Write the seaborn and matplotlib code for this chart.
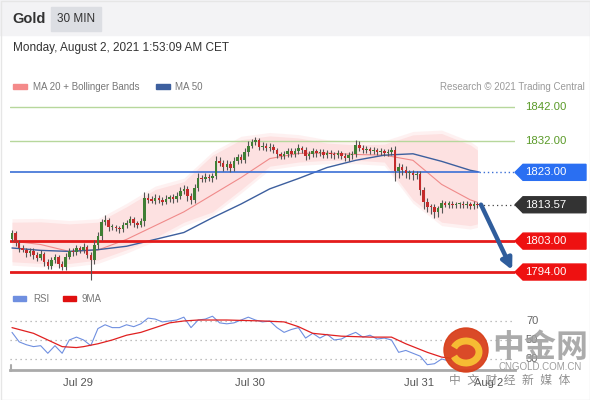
import numpy as np
import pandas as pd
import matplotlib
matplotlib.use("Agg")
import matplotlib.pyplot as plt
import matplotlib.patches as mpatches
import matplotlib.transforms as mtransforms
import seaborn as sns

# --- Daten ---
first_open = 1803.6
close = [
    1805.3, 1802.5, 1801.0, 1800.5, 1799.5, 1800.2, 1799.0, 1798.2, 1799.3, 1797.0,
    1795.8, 1797.5, 1798.4, 1796.4, 1795.5, 1798.5, 1800.2, 1799.7, 1801.0, 1800.3,
    1801.4, 1799.0, 1797.6, 1801.8, 1804.5, 1808.5, 1809.0, 1807.0, 1807.2, 1806.7,
    1806.4, 1807.6, 1808.4, 1809.3, 1808.2, 1807.8, 1808.9, 1815.5, 1815.0, 1814.8,
    1815.6, 1815.0, 1814.4, 1815.3, 1815.8, 1815.2, 1816.2, 1817.6, 1818.2, 1816.0,
    1815.0, 1818.5, 1821.4, 1821.0, 1821.7, 1821.3, 1822.0, 1826.3, 1825.8, 1824.6,
    1825.5, 1824.2, 1826.2, 1827.4, 1826.6, 1828.8, 1830.8, 1831.8, 1832.3, 1830.4,
    1830.8, 1830.1, 1830.5, 1829.6, 1828.2, 1827.8, 1828.3, 1829.2, 1828.4, 1829.1,
    1830.1, 1829.6, 1827.8, 1828.4, 1829.2, 1828.6, 1828.9, 1828.1, 1828.7, 1828.2,
    1828.0, 1828.5, 1827.7, 1827.2, 1827.9, 1828.3, 1831.0, 1830.2, 1829.5, 1829.8,
    1829.2, 1829.5, 1828.9, 1829.2, 1828.6, 1828.9, 1829.6, 1823.5, 1824.5, 1823.8,
    1822.7, 1822.9, 1822.2, 1822.5, 1818.0, 1814.3, 1813.0, 1812.8, 1811.4, 1812.5,
    1814.0, 1813.6, 1813.9, 1813.4, 1813.7, 1813.9, 1813.5, 1813.8, 1813.2, 1813.9,
    1813.57]
wick_up = [
    0.8, 0.6, 0.7, 0.9, 0.6, 0.8, 0.7, 0.9, 1.1, 0.6,
    0.7, 1.0, 0.8, 0.6, 0.7, 1.0, 0.8, 0.9, 1.0, 0.7,
    1.0, 0.6, 0.8, 1.5, 1.2, 1.0, 1.6, 0.8, 0.7, 0.6,
    0.8, 1.0, 0.8, 0.9, 0.7, 0.6, 0.8, 1.8, 1.5, 1.0,
    1.2, 0.8, 0.9, 1.0, 0.7, 0.8, 1.0, 1.0, 1.2, 0.8,
    0.9, 1.1, 1.3, 0.8, 1.0, 0.9, 0.8, 1.5, 1.2, 0.9,
    1.0, 0.8, 1.2, 1.0, 0.9, 1.3, 1.4, 1.0, 0.9, 0.8,
    1.0, 0.7, 0.9, 0.8, 0.6, 0.8, 0.9, 1.0, 0.8, 1.1,
    1.2, 0.7, 0.8, 0.9, 1.0, 0.7, 0.8, 0.9, 0.7, 0.8,
    0.6, 0.9, 0.7, 0.8, 0.9, 0.8, 1.4, 1.0, 0.7, 0.8,
    0.7, 0.9, 0.6, 0.8, 0.7, 0.8, 0.9, 1.0, 1.2, 0.8,
    0.9, 0.7, 0.8, 0.9, 1.0, 0.8, 1.2, 0.7, 0.9, 0.8,
    1.0, 0.6, 0.8, 0.9, 0.7, 0.6, 0.8, 1.0, 0.7, 0.8,
    0.6]
wick_dn = [
    0.7, 0.9, 1.2, 0.8, 1.0, 0.7, 1.1, 0.9, 0.8, 1.2,
    1.0, 0.8, 0.9, 1.3, 1.0, 0.8, 0.7, 1.0, 0.8, 0.9,
    0.8, 1.0, 6.0, 1.2, 1.0, 1.3, 0.8, 1.0, 0.7, 0.9,
    1.0, 0.8, 0.9, 0.7, 1.0, 1.1, 0.8, 1.5, 0.9, 0.8,
    1.0, 0.9, 0.8, 0.7, 0.9, 1.0, 0.8, 0.9, 1.0, 1.4,
    1.3, 1.0, 0.9, 0.8, 0.7, 0.9, 1.0, 0.8, 1.0, 1.2,
    0.9, 1.0, 0.8, 0.9, 1.0, 0.8, 0.9, 0.7, 0.8, 1.0,
    0.9, 0.8, 1.0, 0.9, 1.1, 1.0, 0.8, 0.9, 1.0, 0.8,
    0.7, 1.0, 1.1, 0.9, 0.8, 1.0, 0.9, 0.8, 1.0, 0.9,
    1.0, 0.8, 0.9, 1.0, 0.8, 0.9, 0.8, 1.0, 0.9, 0.8,
    0.9, 0.8, 1.0, 0.9, 0.8, 0.9, 0.8, 3.0, 2.0, 1.5,
    1.2, 1.6, 1.4, 1.0, 1.5, 2.0, 1.5, 1.8, 1.6, 1.4,
    1.2, 0.8, 1.0, 0.9, 0.8, 1.0, 0.9, 0.8, 1.0, 0.9,
    0.8]

# Indikatoren (Stützstellen alle 8 Kerzen)
ind_idx = [0, 8, 16, 24, 32, 40, 48, 56, 64, 72, 80, 88, 96, 104, 112, 120, 128, 130]
bb_upper = [1808.5, 1808.6, 1808.0, 1808.5, 1813.0, 1818.0, 1820.3, 1828.0, 1832.5,
            1833.6, 1833.0, 1831.5, 1831.0, 1831.2, 1833.9, 1834.3, 1831.0, 1829.5]
bb_lower = [1797.0, 1796.5, 1796.5, 1797.5, 1800.5, 1804.0, 1808.5, 1811.5, 1818.0,
            1824.8, 1826.0, 1826.5, 1826.5, 1826.0, 1815.0, 1808.5, 1807.5, 1808.0]
ma20 = [1803.0, 1802.0, 1800.0, 1800.4, 1803.5, 1807.5, 1811.5, 1816.5, 1821.5,
        1827.0, 1828.5, 1828.6, 1828.2, 1828.0, 1826.5, 1819.5, 1815.0, 1814.3]
ma50 = [1801.0, 1800.3, 1800.0, 1800.5, 1801.5, 1803.5, 1805.5, 1809.8, 1813.8,
        1818.2, 1821.2, 1824.4, 1826.5, 1828.0, 1828.4, 1826.2, 1823.6, 1823.2]

# RSI (alle 2 Kerzen) und 9MA
rsi_idx = list(range(0, 131, 2))
rsi = [58, 48, 45, 43, 44, 36, 44, 36, 50, 53, 50, 44, 62, 66, 63, 63, 66, 64, 67, 73,
       72, 69, 70, 71, 74, 63, 71, 72, 75, 68, 67, 68, 71, 74, 71, 69, 70, 63, 58, 61,
       63, 52, 57, 52, 56, 50, 51, 55, 58, 53, 55, 51, 52, 50, 37, 39, 36, 33, 24, 25,
       30, 28, 29, 28, 28, 27]
ma9_idx = [0, 6, 10, 14, 18, 20, 24, 28, 32, 36, 40, 44, 48, 52, 60, 70, 76, 80, 84,
           92, 100, 106, 110, 116, 120, 126, 130]
ma9 = [63, 57, 50, 43, 42, 43, 46, 50, 55, 58, 63, 68, 70, 71, 71, 70, 69, 64, 57,
       54, 53, 53, 46, 37, 32, 29, 27]

levels = [1842.0, 1832.0, 1823.0, 1803.0, 1794.0]
last_price = 1813.57
xtick_pos = [18.4, 66.5, 113.7, 133.2]
xtick_labels = ["Jul 29", "Jul 30", "Jul 31", "Aug 2"]

# --- Plot ---
sns.set_theme(style="white")
plt.rcParams['font.family'] = ['Liberation Sans', 'Noto Sans CJK SC', 'DejaVu Sans']

W, H = 590, 400
fig = plt.figure(figsize=(5.9, 4.0), dpi=100)
fig.patch.set_facecolor("white")

def px_box(l, t, r, b):
    return [l / W, 1 - b / H, (r - l) / W, (b - t) / H]

ax = fig.add_axes(px_box(10, 95, 515, 282))
ax_r = fig.add_axes(px_box(10, 305, 515, 370))
ov = fig.add_axes([0, 0, 1, 1], zorder=10)
ov.set_xlim(0, W)
ov.set_ylim(H, 0)
ov.axis("off")
ov.patch.set_alpha(0)

xmin, xmax = -0.56, 140.5
n = len(close)
idx = np.arange(n)
opens = np.array([first_open] + close[:-1])
closes = np.array(close)
highs = np.maximum(opens, closes) + np.array(wick_up)
lows = np.minimum(opens, closes) - np.array(wick_dn)

# Bollinger-Band (weicher Rand) + MAs
lo = np.array(bb_lower)
hi = np.array(bb_upper)
ax.fill_between(ind_idx, lo - 1.0, hi + 1.0, color="#fde1e1", alpha=0.45, lw=0, zorder=1)
ax.fill_between(ind_idx, lo, hi, color="#fde1e1", lw=0, zorder=1)
df_ind = pd.DataFrame({"idx": ind_idx, "ma20": ma20, "ma50": ma50})
sns.lineplot(data=df_ind, x="idx", y="ma20", ax=ax, color="#f08a8a", lw=0.8, zorder=2)
sns.lineplot(data=df_ind, x="idx", y="ma50", ax=ax, color="#3d5f9e", lw=1.0, zorder=2)

# Kerzen
up = closes >= opens
body_h = np.maximum(np.abs(closes - opens), 0.35)
ax.vlines(idx, lows, highs, color="#555555", lw=0.8, zorder=3)
ax.bar(idx, body_h, bottom=np.minimum(opens, closes), width=0.7,
       color=np.where(up, "#3f7f34", "#c42b2b"), lw=0, zorder=4)

# Horizontale Niveaus
lvl_style = {1842.0: ("#b7d79c", 1.0), 1832.0: ("#b7d79c", 1.0),
             1823.0: ("#3b6fd6", 1.2), 1803.0: ("#e41b1b", 2.0), 1794.0: ("#e41b1b", 2.0)}
for lv in levels:
    c, w = lvl_style[lv]
    if lv == 1823.0:
        ax.plot([xmin, 130.5], [lv, lv], color=c, lw=w, zorder=2.5)
        ax.plot([130.5, xmax], [lv, lv], color=c, lw=1.0, ls=(0, (1, 2)), zorder=2.5)
    else:
        ax.plot([xmin, xmax], [lv, lv], color=c, lw=w, zorder=2.5)
ax.plot([130.5, xmax], [last_price, last_price], color="#444444", lw=0.9,
        ls=(0, (1, 2.5)), zorder=2.5)

# Pfeil
ax.annotate("", xy=(139.7, 1794.6), xytext=(131.0, 1813.6),
            arrowprops=dict(arrowstyle="-|>", color="#2f5d9c", lw=3.2,
                            mutation_scale=16, shrinkA=0, shrinkB=0), zorder=6)

ax.set_xlim(xmin, xmax)
ax.set_ylim(1791.1, 1845.5)
ax.axis("off")

# Preisetiketten rechts
trans = mtransforms.blended_transform_factory(fig.transFigure, ax.transData)
hh = 8 / 3.44
box_col = {1823.0: "#2a6ff2", 1803.0: "#ee1111", 1794.0: "#ee1111", last_price: "#333333"}
for lv in levels + [last_price]:
    txt = f"{lv:.2f}"
    if lv in box_col:
        poly = [(515 / W, lv), (523 / W, lv + hh), (586 / W, lv + hh),
                (586 / W, lv - hh), (523 / W, lv - hh)]
        ax.add_patch(mpatches.Polygon(poly, closed=True, transform=trans,
                                      color=box_col[lv], clip_on=False, zorder=7))
        tc = "white"
    else:
        tc = "#5a9a28"
    ax.text(525 / W, lv, txt, transform=trans, color=tc, fontsize=8.2,
            va="center", ha="left", clip_on=False, zorder=8)

# RSI-Panel
df_rsi = pd.DataFrame({"idx": rsi_idx, "rsi": rsi})
df_ma9 = pd.DataFrame({"idx": ma9_idx, "ma9": ma9})
for lv in [70, 50, 30]:
    ax_r.plot([xmin, xmax], [lv, lv], color="#aaaaaa", lw=0.9, ls=(0, (1, 3)))
    ov.text(526, 321 + (70 - lv) * 0.95, str(lv), color="#666666", fontsize=8,
            va="center", ha="left")
sns.lineplot(data=df_rsi, x="idx", y="rsi", ax=ax_r, color="#6f8fe0", lw=0.8)
sns.lineplot(data=df_ma9, x="idx", y="ma9", ax=ax_r, color="#e02020", lw=0.9)
ax_r.set_xlim(xmin, xmax)
ax_r.set_ylim(18.4, 86.8)
for s in ["top", "right", "left"]:
    ax_r.spines[s].set_visible(False)
ax_r.spines["bottom"].set_color("#aaaaaa")
ax_r.spines["bottom"].set_linewidth(2)
ax_r.set_yticks([])
ax_r.set_xticks(xtick_pos)
ax_r.set_xticklabels(xtick_labels, color="#555555", fontsize=8)
ax_r.tick_params(axis="x", length=0, pad=6)
ax_r.set_xlabel("")
ax_r.set_ylabel("")
ov.plot([11, 11], [365, 371], color="#aaaaaa", lw=1.5)

# Kopfzeile
ov.add_patch(mpatches.Rectangle((0, 0), W, 35, color="#f3f3f5", zorder=0))
ov.add_patch(mpatches.Rectangle((51, 7), 50, 24, color="#dcdee3", zorder=1))
ov.text(12, 19, "Gold", fontsize=10.5, fontweight="bold", color="#333333", va="center")
ov.text(57, 19, "30 MIN", fontsize=8.5, color="#333333", va="center")
ov.text(13, 48, "Monday, August 2, 2021 1:53:09 AM CET", fontsize=8.5,
        color="#333333", va="center")
ov.add_patch(mpatches.Rectangle((0.5, 0.5), W - 1, H - 1, fill=False,
                                edgecolor="#e6e6e6", lw=1))

# Legenden
ov.add_patch(mpatches.Rectangle((13, 84), 14, 5, color="#f48a8a"))
ov.text(33, 86.5, "MA 20 + Bollinger Bands", fontsize=7, color="#777777", va="center")
ov.add_patch(mpatches.Rectangle((156, 84), 14, 5, color="#3d5f9e"))
ov.text(175, 86.5, "MA 50", fontsize=7, color="#777777", va="center")
ov.text(585, 86.5, "Research \u00a9 2021 Trading Central", fontsize=7,
        color="#9a9a9a", va="center", ha="right")
ov.add_patch(mpatches.Rectangle((13, 296), 13, 5, color="#6f8fe0"))
ov.text(33, 298.5, "RSI", fontsize=7, color="#777777", va="center")
ov.add_patch(mpatches.Rectangle((63, 296), 13, 5, color="#e01010"))
ov.text(82, 298.5, "9MA", fontsize=7, color="#777777", va="center")

# Wasserzeichen
ov.add_patch(mpatches.Circle((466, 350), 22, color="#d8401c", alpha=0.95))
ov.add_patch(mpatches.Arc((466, 352), 26, 22, theta1=200, theta2=520,
                          color="#f6bb33", lw=5))
ov.text(540, 349, "中金网", fontsize=23, color="#9d9d9d", alpha=0.85,
        ha="center", va="center", fontweight="bold")
ov.text(540, 367, "CNGOLD.COM.CN", fontsize=7, color="#9d9d9d", ha="center", va="center")
ov.text(510, 381, "中  文  财  经  新  媒  体", fontsize=8.5, color="#8f8f8f",
        ha="center", va="center")

fig.savefig("out.png", dpi=100)
